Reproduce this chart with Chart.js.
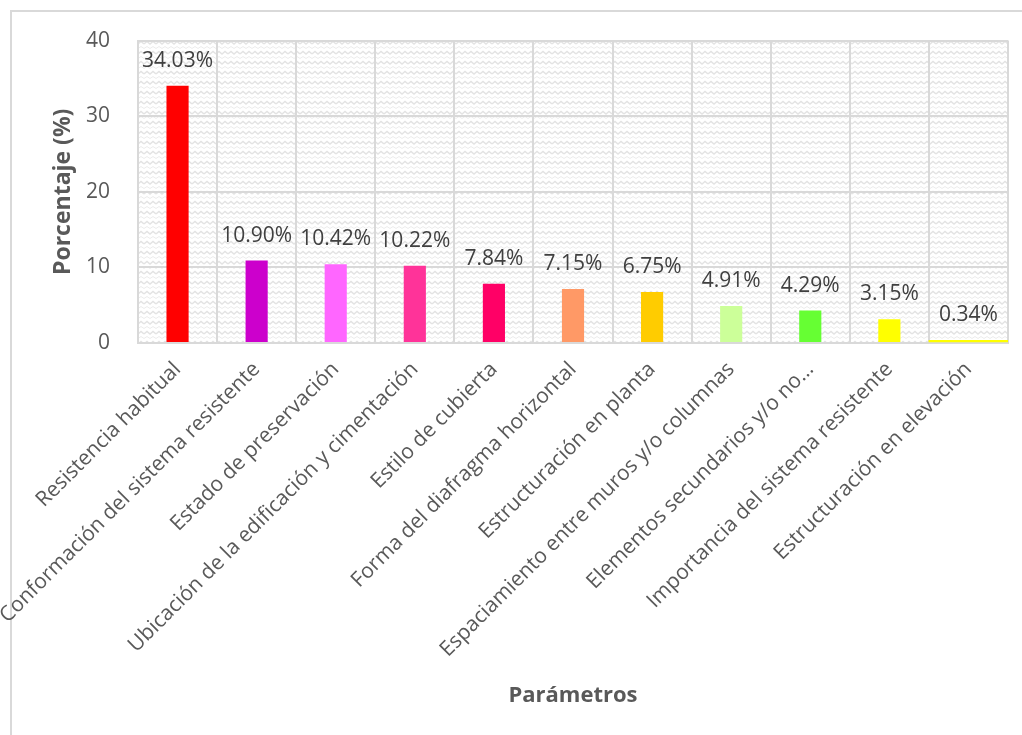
<!DOCTYPE html>
<html>
<head>
<meta charset="utf-8">
<script src="https://cdn.jsdelivr.net/npm/chart.js@4.4.1/dist/chart.umd.min.js"></script>
<style>
    html, body { margin: 0; padding: 0; background: #fff; }
    #wrap { width: 1022px; height: 735px; position: relative; }
</style>
</head>
<body>
<div id="wrap"><canvas id="parametrosChart"></canvas></div>
<script>
// Parámetros y su porcentaje
const parametros = [
    'Resistencia habitual',
    'Conformación del sistema resistente',
    'Estado de preservación',
    'Ubicación de la edificación y cimentación',
    'Estilo de cubierta',
    'Forma del diafragma horizontal',
    'Estructuración en planta',
    'Espaciamiento entre muros y/o columnas',
    'Elementos secundarios y/o no…',
    'Importancia del sistema resistente',
    'Estructuración en elevación'
];
const porcentajes = [34.03, 10.90, 10.42, 10.22, 7.84, 7.15, 6.75, 4.91, 4.29, 3.15, 0.34];
const colores = ['#FF0000', '#CC00CC', '#FF66FF', '#FF3399', '#FF0066', '#FF9966',
                 '#FFCC00', '#CCFF99', '#66FF33', '#FFFF00', '#FFFF00'];
const ticksY = [0, 10, 20, 30, 40];

document.addEventListener('DOMContentLoaded', function() {
    const FONT = "'Open Sans', sans-serif";
    const ultimo = porcentajes.length - 1;

    // textura de fondo del área de trazado (zigzag gris claro)
    function crearTextura() {
        const c = document.createElement('canvas');
        c.width = 12; c.height = 10;
        const g = c.getContext('2d');
        g.fillStyle = '#ffffff';
        g.fillRect(0, 0, 12, 10);
        g.strokeStyle = '#e3e3e3';
        g.lineWidth = 1.4;
        g.beginPath();
        g.moveTo(0, 4); g.lineTo(3, 1.5); g.lineTo(6, 4); g.lineTo(9, 1.5); g.lineTo(12, 4);
        g.stroke();
        g.strokeStyle = '#ececec';
        g.lineWidth = 1;
        g.beginPath();
        g.moveTo(0, 8.5); g.lineTo(3, 6.5); g.lineTo(6, 8.5); g.lineTo(9, 6.5); g.lineTo(12, 8.5);
        g.stroke();
        return g.createPattern(c, 'repeat');
    }

    const fondo = {
        id: 'fondo',
        beforeDraw(chart) {
            const { ctx, chartArea: a } = chart;
            ctx.save();
            // marco exterior
            ctx.strokeStyle = '#d9d9d9';
            ctx.lineWidth = 2;
            ctx.strokeRect(11, 11, 1100, 800);
            ctx.fillStyle = crearTextura();
            ctx.fillRect(a.left, a.top, a.right - a.left, a.bottom - a.top);
            ctx.restore();
        }
    };

    // etiquetas de valor encima de cada barra
    const etiquetas = {
        id: 'etiquetas',
        afterDatasetsDraw(chart) {
            const ctx = chart.ctx;
            ctx.save();
            ctx.font = '21px ' + FONT;
            ctx.fillStyle = '#404040';
            ctx.textAlign = 'center';
            ctx.textBaseline = 'middle';
            chart.data.datasets.forEach(function(ds, i) {
                chart.getDatasetMeta(i).data.forEach(function(bar, j) {
                    if (ds.data[j] === null) return;
                    ctx.fillText(ds.data[j].toFixed(2) + '%', bar.x, bar.y - 25);
                });
            });
            ctx.restore();
        }
    };

    new Chart(document.getElementById('parametrosChart'), {
        type: 'bar',
        data: {
            labels: parametros,
            datasets: [{
                data: porcentajes.map((v, i) => i === ultimo ? null : v),
                backgroundColor: colores,
                barPercentage: 0.28,
                categoryPercentage: 1
            }, {
                // la última barra ocupa toda la categoría
                data: porcentajes.map((v, i) => i === ultimo ? v : null),
                backgroundColor: colores,
                barPercentage: 1,
                categoryPercentage: 1
            }]
        },
        options: {
            responsive: true,
            maintainAspectRatio: false,
            animation: false,
            grouped: false,
            layout: { padding: { left: 10, right: 14, top: 40, bottom: 22 } },
            plugins: {
                legend: { display: false },
                tooltip: { enabled: false }
            },
            scales: {
                x: {
                    grid: { color: '#d9d9d9', lineWidth: 2, drawTicks: false, offset: true },
                    border: { color: '#d9d9d9', width: 2 },
                    ticks: {
                        color: '#595959',
                        font: { family: FONT, size: 21 },
                        maxRotation: 45,
                        minRotation: 45,
                        autoSkip: false,
                        padding: 14
                    },
                    title: {
                        display: true,
                        text: 'Parámetros',
                        color: '#595959',
                        font: { family: FONT, size: 22, weight: 'bold' },
                        padding: { top: 4, bottom: 4 }
                    },
                    afterFit(scale) {
                        scale.paddingLeft = 0;
                        scale.paddingRight = 0;
                        scale.height = 370;
                    }
                },
                y: {
                    min: 0,
                    max: 40,
                    afterBuildTicks(scale) {
                        scale.ticks = ticksY.map(v => ({ value: v }));
                    },
                    grid: { color: '#d9d9d9', lineWidth: 2, drawTicks: false },
                    border: { color: '#d9d9d9', width: 2 },
                    ticks: {
                        color: '#595959',
                        font: { family: FONT, size: 21 },
                        padding: 28
                    },
                    title: {
                        display: true,
                        text: 'Porcentaje (%)',
                        color: '#595959',
                        font: { family: FONT, size: 23, weight: 'bold' },
                        padding: { top: 40, bottom: 0 }
                    },
                    afterFit(scale) {
                        scale.width = 128;
                    }
                }
            }
        },
        plugins: [fondo, etiquetas]
    });
});
</script>
</body>
</html>
